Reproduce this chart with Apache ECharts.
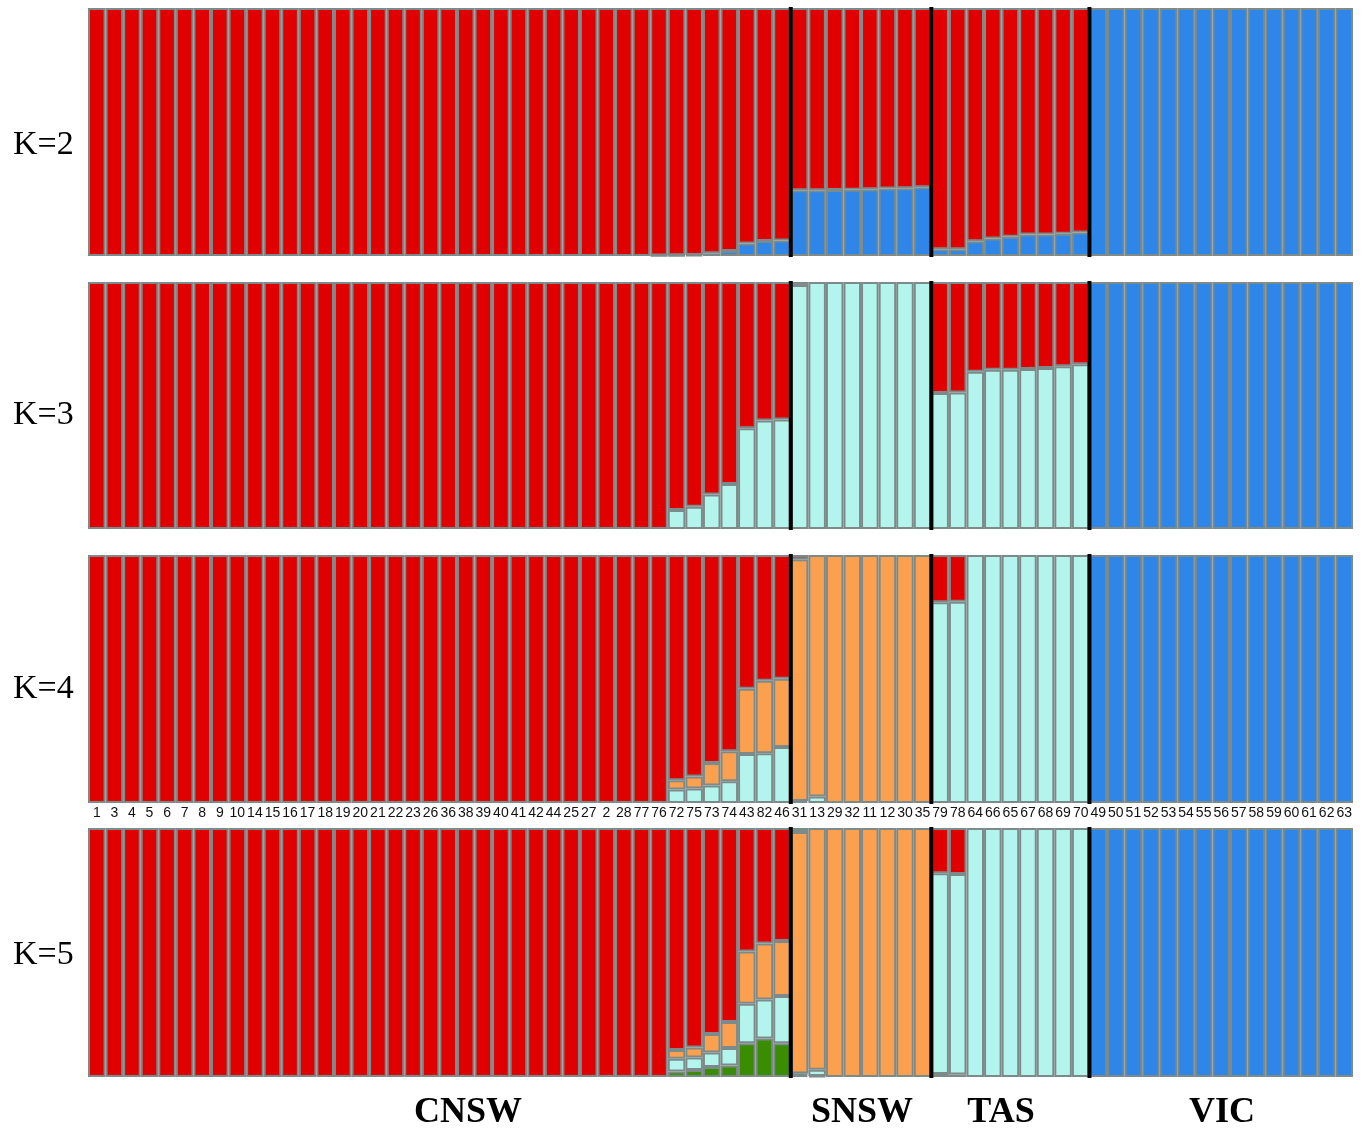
<!DOCTYPE html>
<html><head><meta charset="utf-8">
<script src="https://cdn.jsdelivr.net/npm/echarts@6/dist/echarts.min.js"></script>
<style>html,body{margin:0;padding:0;background:#fff}#c{width:1361px;height:1129px}</style>
</head><body><div id="c"></div>
<script>
// ---- DATA ----
const sampleLabels = ['1','3','4','5','6','7','8','9','10','14','15','16','17','18','19','20','21','22','23','26','36','38','39','40','41','42','44','25','27','2','28','77','76','72','75','73','74','43','82','46',
  '31','13','29','32','11','12','30','35',
  '79','78','64','66','65','67','68','69','70',
  '49','50','51','52','53','54','55','56','57','58','59','60','61','62','63'];
const groupNames = ['CNSW','SNSW','TAS','VIC'];
const groupSizes = [40, 8, 9, 15];
const groupBoundaries = [40, 48, 57];
const kLabels = ['K=2','K=3','K=4','K=5'];

// K=2
const k2Blue = [0,0,0,0,0,0,0,0,0,0, 0,0,0,0,0,0,0,0,0,0, 0,0,0,0,0,0,0,0,0,0, 0,0,0.002,0.003,0.004,0.011,0.02,0.05,0.06,0.063,
  0.265,0.265,0.266,0.267,0.269,0.272,0.273,0.277,
  0.027,0.027,0.059,0.071,0.078,0.087,0.087,0.09,0.095,
  1,1,1,1,1,1,1,1,1,1,1,1,1,1,1];
const k2Red = [1,1,1,1,1,1,1,1,1,1, 1,1,1,1,1,1,1,1,1,1, 1,1,1,1,1,1,1,1,1,1, 1,1,0.998,0.997,0.996,0.989,0.98,0.95,0.94,0.937,
  0.735,0.735,0.734,0.733,0.731,0.728,0.727,0.723,
  0.973,0.973,0.941,0.929,0.922,0.913,0.913,0.91,0.905,
  0,0,0,0,0,0,0,0,0,0,0,0,0,0,0];
// K=3
const k3Cyan = [0,0,0,0,0,0,0,0,0,0, 0,0,0,0,0,0,0,0,0,0, 0,0,0,0,0,0,0,0,0,0, 0,0,0,0.077,0.09,0.14,0.182,0.408,0.439,0.443,
  0.988,1,1,1,1,1,1,1,
  0.551,0.553,0.637,0.645,0.645,0.648,0.652,0.659,0.667,
  0,0,0,0,0,0,0,0,0,0,0,0,0,0,0];
const k3Blue = [0,0,0,0,0,0,0,0,0,0, 0,0,0,0,0,0,0,0,0,0, 0,0,0,0,0,0,0,0,0,0, 0,0,0,0,0,0,0,0,0,0,
  0,0,0,0,0,0,0,0,
  0,0,0,0,0,0,0,0,0,
  1,1,1,1,1,1,1,1,1,1,1,1,1,1,1];
const k3Red = [1,1,1,1,1,1,1,1,1,1, 1,1,1,1,1,1,1,1,1,1, 1,1,1,1,1,1,1,1,1,1, 1,1,1,0.923,0.91,0.86,0.818,0.592,0.561,0.557,
  0.012,0,0,0,0,0,0,0,
  0.449,0.447,0.363,0.355,0.355,0.352,0.348,0.341,0.333,
  0,0,0,0,0,0,0,0,0,0,0,0,0,0,0];
// K=4
const k4Cyan = [0,0,0,0,0,0,0,0,0,0, 0,0,0,0,0,0,0,0,0,0, 0,0,0,0,0,0,0,0,0,0, 0,0,0,0.054,0.058,0.071,0.088,0.198,0.201,0.226,
  0.008,0.026,0,0,0,0,0,0,
  0.809,0.811,1,1,1,1,1,1,1,
  0,0,0,0,0,0,0,0,0,0,0,0,0,0,0];
const k4Orange = [0,0,0,0,0,0,0,0,0,0, 0,0,0,0,0,0,0,0,0,0, 0,0,0,0,0,0,0,0,0,0, 0,0,0,0.038,0.049,0.09,0.121,0.263,0.292,0.275,
  0.975,0.974,1,1,1,1,1,1,
  0,0,0,0,0,0,0,0,0,
  0,0,0,0,0,0,0,0,0,0,0,0,0,0,0];
const k4Blue = k3Blue;
const k4Red = [1,1,1,1,1,1,1,1,1,1, 1,1,1,1,1,1,1,1,1,1, 1,1,1,1,1,1,1,1,1,1, 1,1,1,0.908,0.893,0.839,0.791,0.539,0.507,0.499,
  0.017,0,0,0,0,0,0,0,
  0.191,0.189,0,0,0,0,0,0,0,
  0,0,0,0,0,0,0,0,0,0,0,0,0,0,0];
// K=5
const k5Green = [0,0,0,0,0,0,0,0,0,0, 0,0,0,0,0,0,0,0,0,0, 0,0,0,0,0,0,0,0,0,0, 0,0,0,0.022,0.028,0.04,0.046,0.136,0.155,0.136,
  0.008,0.004,0,0,0,0,0,0,
  0.012,0.01,0,0,0,0,0,0,0,
  0,0,0,0,0,0,0,0,0,0,0,0,0,0,0];
const k5Cyan = [0,0,0,0,0,0,0,0,0,0, 0,0,0,0,0,0,0,0,0,0, 0,0,0,0,0,0,0,0,0,0, 0,0,0,0.051,0.05,0.058,0.07,0.158,0.156,0.189,
  0.006,0.025,0,0,0,0,0,0,
  0.806,0.805,1,1,1,1,1,1,1,
  0,0,0,0,0,0,0,0,0,0,0,0,0,0,0];
const k5Orange = [0,0,0,0,0,0,0,0,0,0, 0,0,0,0,0,0,0,0,0,0, 0,0,0,0,0,0,0,0,0,0, 0,0,0,0.035,0.04,0.075,0.105,0.21,0.225,0.221,
  0.97,0.971,1,1,1,1,1,1,
  0,0,0,0,0,0,0,0,0,
  0,0,0,0,0,0,0,0,0,0,0,0,0,0,0];
const k5Blue = k3Blue;
const k5Red = [1,1,1,1,1,1,1,1,1,1, 1,1,1,1,1,1,1,1,1,1, 1,1,1,1,1,1,1,1,1,1, 1,1,1,0.892,0.882,0.827,0.779,0.496,0.464,0.454,
  0.016,0,0,0,0,0,0,0,
  0.182,0.185,0,0,0,0,0,0,0,
  0,0,0,0,0,0,0,0,0,0,0,0,0,0,0];

// ---- STYLE ----
const COLORS = {green:'#3a8c00', cyan:'#b3f5ec', orange:'#fba04e', blue:'#2e86e8', red:'#e00000'};
const BORDER = '#7d8a8a';
const panels = [
  {label:kLabels[0], top:8, height:248, layers:[['blue',k2Blue],['red',k2Red]], labelY:145},
  {label:kLabels[1], top:282, height:247, layers:[['cyan',k3Cyan],['blue',k3Blue],['red',k3Red]], labelY:415},
  {label:kLabels[2], top:555, height:248, layers:[['cyan',k4Cyan],['orange',k4Orange],['blue',k4Blue],['red',k4Red]], labelY:689},
  {label:kLabels[3], top:828, height:249, layers:[['green',k5Green],['cyan',k5Cyan],['orange',k5Orange],['blue',k5Blue],['red',k5Red]], labelY:955}
];
const groupLabelX = [468, 862, 1001, 1222];

const grid = [], xAxis = [], yAxis = [], series = [], graphic = [];
const nSamples = sampleLabels.length;
panels.forEach((p, i) => {
  grid.push({left:88, right:8, top:p.top, height:p.height});
  xAxis.push({type:'category', gridIndex:i, data:sampleLabels, boundaryGap:true,
    axisLine:{show:false}, axisTick:{show:false}, splitLine:{show:false},
    axisLabel:{show:i===2, interval:0, fontSize:14, margin:3, color:'#111', fontFamily:'"Liberation Sans", Arial'}});
  xAxis.push({type:'value', gridIndex:i, min:0, max:nSamples, show:false});
  yAxis.push({type:'value', gridIndex:i, min:0, max:1, show:false});
  p.layers.forEach(([col, arr]) => {
    series.push({type:'bar', xAxisIndex:2*i, yAxisIndex:i, stack:'p'+i, barCategoryGap:'0%', barGap:'0%',
      data: arr.map(v => v === 0 ? '-' : v),
      itemStyle:{color:COLORS[col], borderColor:BORDER, borderWidth:2},
      silent:true, animation:false});
  });
  series.push({type:'custom', xAxisIndex:2*i+1, yAxisIndex:i, z:10, silent:true, animation:false,
    data: groupBoundaries.map(b => [b]),
    renderItem: (params, api) => {
      const a = api.coord([api.value(0), 0]);
      const b = api.coord([api.value(0), 1]);
      return {type:'line', shape:{x1:a[0], y1:a[1]+1, x2:b[0], y2:b[1]-1}, style:{stroke:'#000', lineWidth:4}};
    }});
  graphic.push({type:'text', x:13, y:p.labelY, style:{text:p.label, font:'34px "Liberation Serif"', fill:'#000', textVerticalAlign:'middle'}});
});
groupNames.forEach((g, j) => {
  graphic.push({type:'text', x:groupLabelX[j], y:1113, style:{text:g, font:'bold 36px "Liberation Serif"', fill:'#000', textAlign:'center', textVerticalAlign:'middle'}});
});

const chart = echarts.init(document.getElementById('c'), null, {renderer:'canvas'});
chart.setOption({animation:false, backgroundColor:'#fff', grid, xAxis, yAxis, series, graphic});
</script>
</body></html>
